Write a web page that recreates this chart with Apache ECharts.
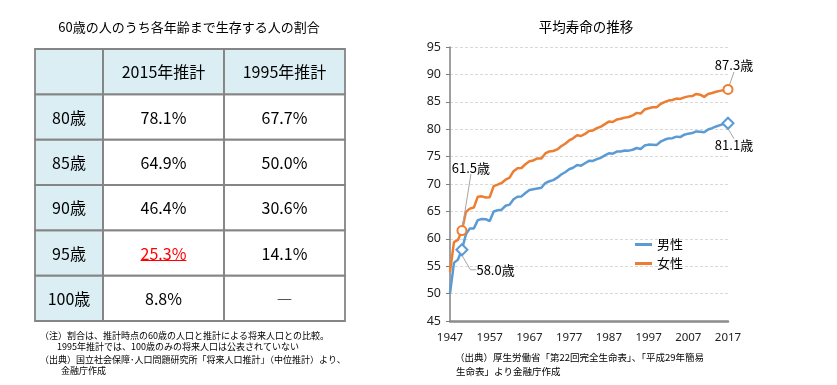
<!DOCTYPE html>
<html><head><meta charset="utf-8">
<script src="https://cdn.jsdelivr.net/npm/echarts@6/dist/echarts.min.js"></script>
<style>html,body{margin:0;padding:0;background:#fff}#c{width:837px;height:385px}</style>
</head><body><div id="c"></div>
<script>
// ---- table data ----
const tableAges = ['80歳', '85歳', '90歳', '95歳', '100歳'];
const tableCols = ['2015年推計', '1995年推計'];
const est2015 = [78.1, 64.9, 46.4, 25.3, 8.8];
const est1995 = [67.7, 50.0, 30.6, 14.1, null];
const highlightCell = { row: 3, col: 0 };

// ---- line chart data ----
const years = ['1947','1948','1949','1950','1951','1952','1953','1954','1955','1956',
  '1957','1958','1959','1960','1961','1962','1963','1964','1965','1966',
  '1967','1968','1969','1970','1971','1972','1973','1974','1975','1976',
  '1977','1978','1979','1980','1981','1982','1983','1984','1985','1986',
  '1987','1988','1989','1990','1991','1992','1993','1994','1995','1996',
  '1997','1998','1999','2000','2001','2002','2003','2004','2005','2006',
  '2007','2008','2009','2010','2011','2012','2013','2014','2015','2016','2017'];
const male = [50.06,55.6,56.2,58.0,60.8,61.9,61.9,63.41,63.60,63.59,
  63.24,64.98,65.21,65.32,66.03,66.23,67.21,67.67,67.74,68.35,
  68.91,69.05,69.18,69.31,70.17,70.50,70.70,71.16,71.73,72.15,
  72.69,72.97,73.46,73.35,73.79,74.22,74.20,74.54,74.78,75.23,
  75.61,75.54,75.91,75.92,76.11,76.09,76.25,76.57,76.38,77.01,
  77.19,77.16,77.10,77.72,78.07,78.32,78.36,78.64,78.56,79.00,
  79.19,79.29,79.59,79.55,79.44,79.94,80.21,80.50,80.75,80.98,81.09];
const female = [53.96,59.4,59.8,61.5,64.9,65.5,65.7,67.69,67.75,67.54,
  67.60,69.61,69.88,70.19,70.79,71.16,72.34,72.87,72.92,73.61,
  74.15,74.30,74.67,74.66,75.58,75.94,76.02,76.31,76.89,77.35,
  77.95,78.33,78.89,78.76,79.13,79.66,79.78,80.18,80.48,80.93,
  81.39,81.30,81.77,81.90,82.11,82.22,82.51,82.98,82.85,83.59,
  83.82,84.01,83.99,84.60,84.93,85.23,85.33,85.59,85.52,85.81,
  85.99,86.05,86.44,86.30,85.90,86.41,86.61,86.83,86.99,87.14,87.26];
const markedYears = ['1950', '2017'];
const seriesNames = ['男性', '女性'];

const JP = '"Noto Sans CJK JP", "Noto Sans", sans-serif';
const BLUE = '#5B9BD5', ORANGE = '#ED7D31';
const HEAD_BG = '#DAEEF3', BORDER = '#858585';

const measureCtx = document.createElement('canvas').getContext('2d');

// table cells
const rowCats = ['', ...tableAges];
const cellsA = rowCats.map((t, r) => ({ value: [0, r], text: t, fill: HEAD_BG }));
const cellsB = [];
rowCats.forEach((_, r) => {
  tableCols.forEach((cname, c) => {
    if (r === 0) {
      cellsB.push({ value: [c, r], text: cname, fill: HEAD_BG, color: '#000', underline: false });
    } else {
      const v = (c === 0 ? est2015 : est1995)[r - 1];
      const hl = (highlightCell.row === r - 1 && highlightCell.col === c);
      cellsB.push({ value: [c, r], text: v == null ? '―' : v.toFixed(1) + '%', fill: '#fff',
        color: hl ? '#FF0000' : '#000', underline: hl });
    }
  });
});

function makeCellRender(cells) {
  return function (params, api) {
    const cell = cells[params.dataIndex];
    const ctr = api.coord([api.value(0), api.value(1)]);
    const sz = api.size([1, 1]);
    const x0 = ctr[0] - sz[0] / 2, y0 = ctr[1] - sz[1] / 2;
    const font = '16px ' + JP;
    const children = [
      { type: 'rect', shape: { x: x0, y: y0, width: sz[0], height: sz[1] }, style: { fill: cell.fill }, z2: 0 },
      { type: 'rect', shape: { x: x0, y: y0, width: sz[0], height: sz[1] }, style: { fill: null, stroke: BORDER, lineWidth: 1.8 }, z2: 10 },
      { type: 'text', x: ctr[0], y: ctr[1] + 0.5, style: { text: cell.text, font: font, fill: cell.color || '#000', align: 'center', verticalAlign: 'middle' }, z2: 20 }
    ];
    if (cell.underline) {
      measureCtx.font = font;
      const w = measureCtx.measureText(cell.text).width;
      children.push({ type: 'line', shape: { x1: ctr[0] - w / 2, y1: ctr[1] + 7.5, x2: ctr[0] + w / 2, y2: ctr[1] + 7.5 },
        style: { stroke: cell.color, lineWidth: 1 }, z2: 20 });
    }
    return { type: 'group', children: children };
  };
}

function lineData(vals, symbol, size, labelPos) {
  return vals.map((v, i) => {
    if (markedYears.indexOf(years[i]) >= 0) {
      return { value: v, symbol: symbol, symbolSize: size,
        label: { show: true, position: labelPos[years[i]] } };
    }
    return { value: v, symbol: 'none' };
  });
}

const labelOffsets = {
  '男性': { '1950': { dx: 3, dy: 20, len2: 6 }, '2017': { dx: 6, dy: 4, len2: 0 } },
  '女性': { '1950': { dx: 9, dy: -46, len2: 0 }, '2017': { dx: 6, dy: -7, len2: 0 } }
};

function lineSeries(name, vals, color, symbol, size, labelPos) {
  const data = lineData(vals, symbol, size, labelPos);
  data.forEach((d, i) => {
    if (d.label) {
      d.labelLine = { show: true, length2: labelOffsets[name][years[i]].len2, lineStyle: { color: '#A6A6A6', width: 1 } };
    }
  });
  return {
    name: name, type: 'line', xAxisIndex: 0, yAxisIndex: 0,
    data: data, showSymbol: true, showAllSymbol: true, symbol: 'none',
    lineStyle: { color: color, width: 2.5 }, itemStyle: { color: color, borderWidth: 2 },
    label: { color: '#000', fontSize: 13, fontFamily: JP, distance: 5,
      formatter: p => p.value.toFixed(1) + '歳' },
    labelLayout: p => {
      const o = labelOffsets[name][years[p.dataIndex]];
      return o ? { dx: o.dx, dy: o.dy } : {};
    },
    emphasis: { disabled: true }, animation: false, z: name === '女性' ? 3 : 2
  };
}

const chart = echarts.init(document.getElementById('c'), null, { renderer: 'canvas' });
chart.setOption({
  animation: false,
  backgroundColor: '#fff',
  grid: [
    { left: 450, right: 109, top: 47, bottom: 64 },
    { left: 35, width: 68, top: 49, height: 272 },
    { left: 103, width: 242, top: 49, height: 272 }
  ],
  xAxis: [
    { type: 'category', gridIndex: 0, data: years, boundaryGap: false,
      axisLine: { lineStyle: { color: '#8C8C8C', width: 2.5 } }, axisTick: { show: false },
      axisLabel: { interval: 9, color: '#222', fontSize: 11.5, fontFamily: '"Noto Sans", sans-serif', margin: 11 },
      splitLine: { show: false } },
    { type: 'category', gridIndex: 1, data: ['h'], show: false },
    { type: 'category', gridIndex: 2, data: tableCols, show: false }
  ],
  yAxis: [
    { type: 'value', gridIndex: 0, min: 45, max: 95, interval: 5,
      axisLine: { show: true, lineStyle: { color: '#7F7F7F', width: 1.5 } },
      axisTick: { show: true, length: 4, lineStyle: { color: '#7F7F7F' } },
      axisLabel: { color: '#222', fontSize: 12.5, fontFamily: '"Noto Sans", sans-serif', margin: 9 },
      splitLine: { show: true, lineStyle: { color: '#D9D9D9', type: [3, 2], width: 1 } } },
    { type: 'category', gridIndex: 1, data: rowCats, inverse: true, show: false },
    { type: 'category', gridIndex: 2, data: rowCats, inverse: true, show: false }
  ],
  legend: {
    orient: 'vertical', left: 630, top: 233, itemWidth: 17, itemHeight: 3, itemGap: 6,
    icon: 'rect', data: seriesNames,
    textStyle: { fontSize: 13, fontFamily: JP, color: '#000' }
  },
  series: [
    lineSeries('男性', male, BLUE, 'emptyDiamond', 11, { '1950': 'right', '2017': 'bottom' }),
    lineSeries('女性', female, ORANGE, 'emptyCircle', 9, { '1950': 'top', '2017': 'top' }),
    { type: 'custom', xAxisIndex: 1, yAxisIndex: 1, data: cellsA.map(c => c.value),
      renderItem: makeCellRender(cellsA), silent: true },
    { type: 'custom', xAxisIndex: 2, yAxisIndex: 2, data: cellsB.map(c => c.value),
      renderItem: makeCellRender(cellsB), silent: true }
  ],
  graphic: [
    { type: 'text', x: 189, y: 27, style: { text: '60歳の人のうち各年齢まで生存する人の割合', font: '13px ' + JP, fill: '#000', align: 'center', verticalAlign: 'middle' } },
    { type: 'text', x: 586, y: 27, style: { text: '平均寿命の推移', font: '13.5px ' + JP, fill: '#000', align: 'center', verticalAlign: 'middle' } },
    { type: 'text', x: 40, y: 335.5, style: { text: '（注）割合は、推計時点の60歳の人口と推計による将来人口との比較。', font: '9px ' + JP, fill: '#000', verticalAlign: 'middle' } },
    { type: 'text', x: 57, y: 347, style: { text: '1995年推計では、100歳のみの将来人口は公表されていない', font: '9px ' + JP, fill: '#000', verticalAlign: 'middle' } },
    { type: 'text', x: 40, y: 359.5, style: { text: '（出典）国立社会保障･人口問題研究所「将来人口推計」（中位推計）より、', font: '9px ' + JP, fill: '#000', verticalAlign: 'middle' } },
    { type: 'text', x: 61, y: 371, style: { text: '金融庁作成', font: '9px ' + JP, fill: '#000', verticalAlign: 'middle' } },
    { type: 'text', x: 455, y: 357.5, style: { text: '（出典）厚生労働省「第22回完全生命表」、「平成29年簡易', font: '9.5px ' + JP, fill: '#000', verticalAlign: 'middle' } },
    { type: 'text', x: 456, y: 371, style: { text: '生命表」より金融庁作成', font: '9.5px ' + JP, fill: '#000', verticalAlign: 'middle' } }
  ]
});
</script>
</body></html>
